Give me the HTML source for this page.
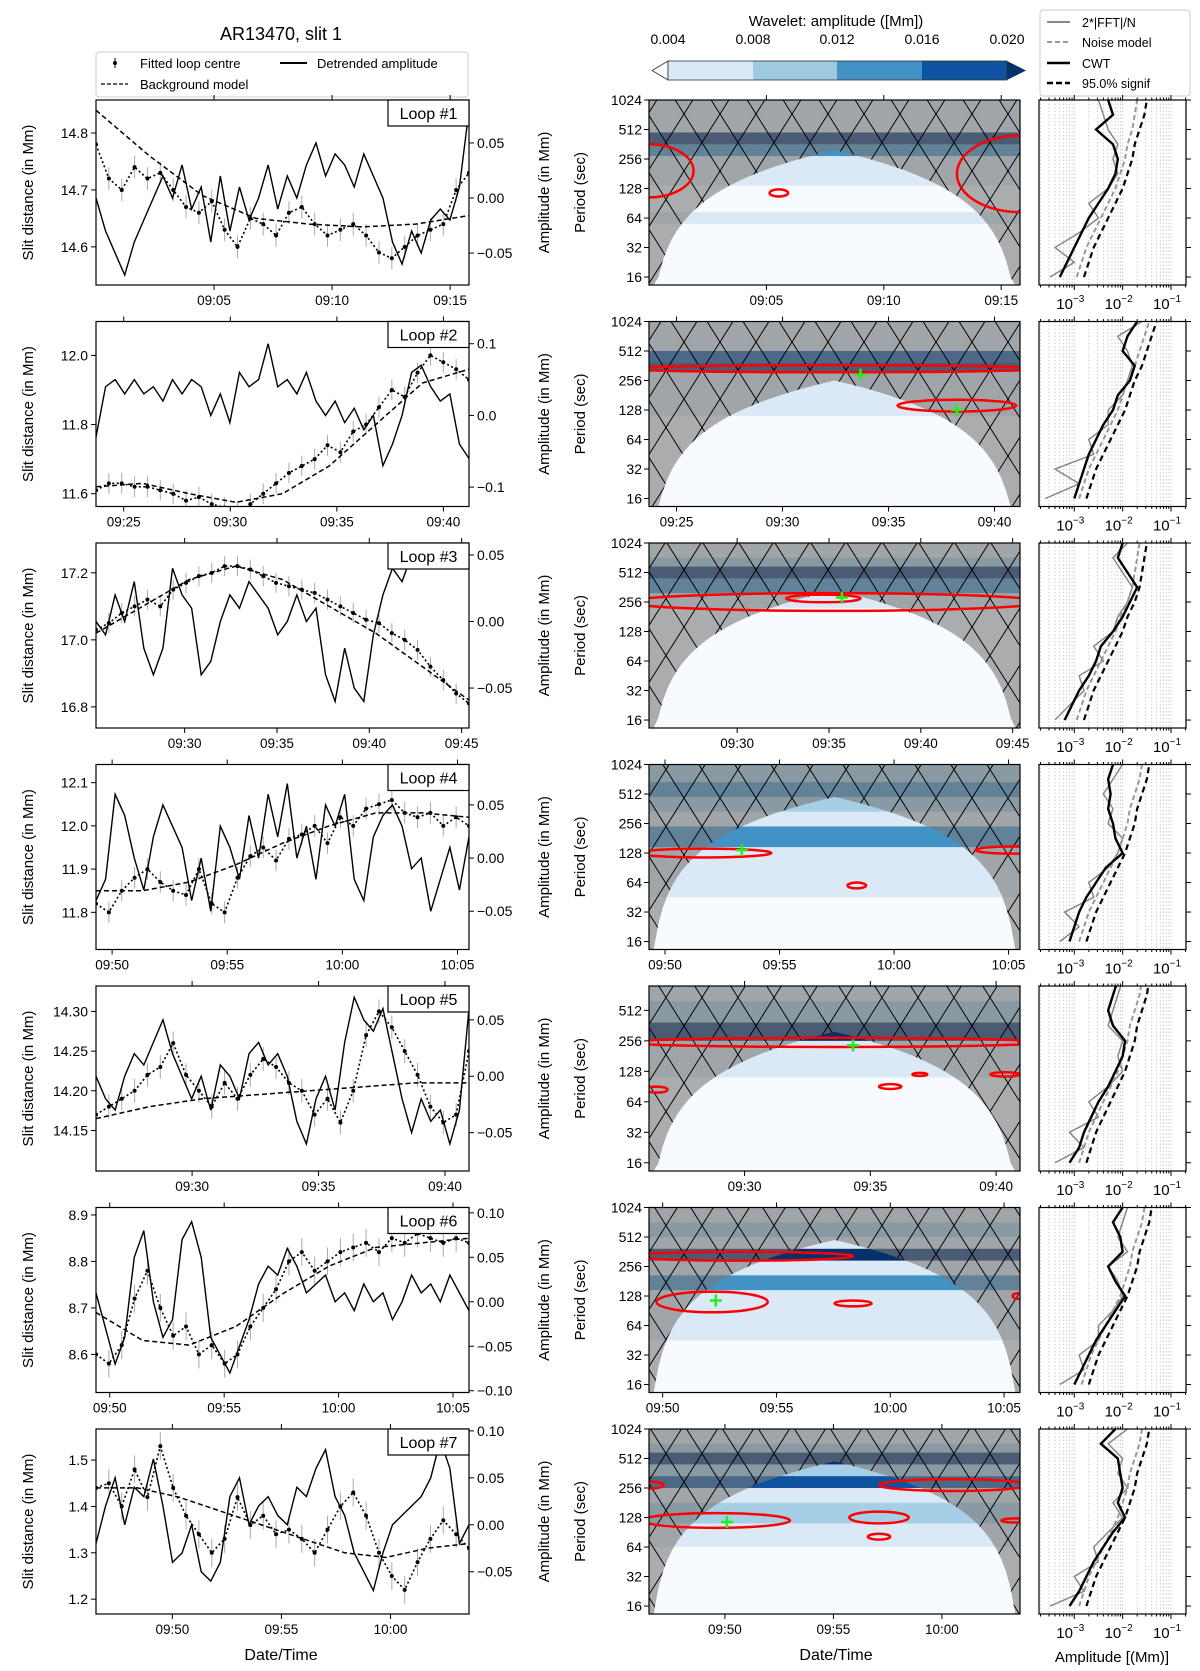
<!DOCTYPE html>
<html><head><meta charset="utf-8"><title>AR13470 slit 1</title>
<style>
html,body{margin:0;padding:0;background:#fff;}
svg{display:block;font-family:"Liberation Sans","DejaVu Sans",sans-serif;}
</style></head>
<body>
<svg id="fig" width="1200" height="1671" viewBox="0 0 1200 1671" xmlns="http://www.w3.org/2000/svg">
<defs>
<pattern id="hatch" patternUnits="userSpaceOnUse" width="36" height="57">
<line x1="0" y1="0" x2="36" y2="57" stroke="#000" stroke-width="1"/>
<line x1="36" y1="0" x2="0" y2="57" stroke="#000" stroke-width="1"/>
</pattern>
</defs>
<text x="281" y="40" font-size="18" text-anchor="middle">AR13470, slit 1</text>
<g>
<rect x="96" y="52" width="372" height="45" fill="#fff" stroke="#ccc" rx="3"/>
<line x1="115" y1="58" x2="115" y2="68" stroke="#000" stroke-width="1"/><circle cx="115" cy="63" r="2" fill="#000"/>
<text x="140" y="68" font-size="13">Fitted loop centre</text>
<line x1="280" y1="63" x2="307" y2="63" stroke="#000" stroke-width="2"/>
<text x="317" y="68" font-size="13">Detrended amplitude</text>
<line x1="101" y1="84" x2="128" y2="84" stroke="#000" stroke-width="1.3" stroke-dasharray="4,2"/>
<text x="140" y="89" font-size="13">Background model</text>
</g>
<g>
<text x="836" y="26" font-size="15" text-anchor="middle">Wavelet: amplitude ([Mm])</text>
<polygon points="668,61 652,70.5 668,80" fill="#f7fbff" stroke="#333" stroke-width="0.8"/>
<rect x="668" y="61" width="85" height="19" fill="#dbe9f6"/>
<rect x="753" y="61" width="84" height="19" fill="#9ecae1"/>
<rect x="837" y="61" width="85" height="19" fill="#4292c6"/>
<rect x="922" y="61" width="85" height="19" fill="#0d53a0"/>
<polygon points="1007,61 1026,70.5 1007,80" fill="#08306b"/>
<rect x="668" y="61" width="339" height="19" fill="none" stroke="#333" stroke-width="0.8"/>
<g font-size="14" text-anchor="middle">
<text x="668" y="44">0.004</text><text x="753" y="44">0.008</text><text x="837" y="44">0.012</text><text x="922" y="44">0.016</text><text x="1007" y="44">0.020</text>
</g>
</g>
<g>
<rect x="1040" y="10" width="150" height="86" fill="#fff" stroke="#ccc" rx="3"/>
<line x1="1047" y1="22" x2="1070" y2="22" stroke="#888" stroke-width="2"/><text x="1082" y="27" font-size="12.5">2*|FFT|/N</text>
<line x1="1047" y1="42" x2="1070" y2="42" stroke="#999" stroke-width="2" stroke-dasharray="5,3"/><text x="1082" y="47" font-size="12.5">Noise model</text>
<line x1="1047" y1="63" x2="1070" y2="63" stroke="#000" stroke-width="2.5"/><text x="1082" y="68" font-size="12.5">CWT</text>
<line x1="1047" y1="83" x2="1070" y2="83" stroke="#000" stroke-width="2.5" stroke-dasharray="6,3"/><text x="1082" y="88" font-size="12.5">95.0% signif</text>
</g>
<text x="281" y="1660" font-size="16" text-anchor="middle">Date/Time</text>
<text x="836" y="1660" font-size="16" text-anchor="middle">Date/Time</text>
<text x="1112" y="1662" font-size="15" text-anchor="middle">Amplitude [(Mm)]</text>
</svg>
<script>
// ---- time axes (minutes after 09:00) ----
const tStart=[0.0,23.7,25.2,49.3,26.2,49.4,46.5];
const tSpan=[15.8,17.5,20.2,16.2,14.75,16.3,17.1];
const timeTicks=[[5,10,15],[25,30,35,40],[30,35,40,45],[50,55,60,65],[30,35,40],[50,55,60,65],[50,55,60]];
// ---- left axes ----
const leftRange=[[14.533,14.858],[11.563,12.098],[16.737,17.289],[11.714,12.142],[14.099,14.332],[8.518,8.916],[1.168,1.567]];
const ampRange=[[-0.079,0.089],[-0.127,0.131],[-0.080,0.059],[-0.086,0.088],[-0.084,0.080],[-0.102,0.106],[-0.095,0.102]];
const leftTicks=[[14.6,14.7,14.8],[11.6,11.8,12.0],[16.8,17.0,17.2],[11.8,11.9,12.0,12.1],[14.15,14.2,14.25,14.3],[8.6,8.7,8.8,8.9],[1.2,1.3,1.4,1.5]];
const leftDec=[1,1,1,1,2,1,1];
const ampTicks=[[-0.05,0,0.05],[-0.1,0,0.1],[-0.05,0,0.05],[-0.05,0,0.05],[-0.05,0,0.05],[-0.1,-0.05,0,0.05,0.1],[-0.05,0,0.05,0.1]];
const ampDec=[2,1,2,2,2,2,2];
const errHalf=[0.02,0.03,0.03,0.025,0.015,0.03,0.03];
// ---- fitted loop centre ----
const centre=[
[14.78,14.72,14.70,14.74,14.72,14.73,14.70,14.67,14.66,14.68,14.63,14.60,14.65,14.64,14.62,14.66,14.67,14.64,14.62,14.63,14.64,14.62,14.59,14.58,14.60,14.62,14.63,14.64,14.70,14.73],
[11.61,11.63,11.63,11.62,11.62,11.61,11.60,11.58,11.59,11.57,11.56,11.55,11.57,11.60,11.63,11.66,11.68,11.70,11.74,11.72,11.78,11.80,11.85,11.90,11.88,11.95,12.00,11.98,11.96,11.93],
[17.03,17.05,17.08,17.10,17.12,17.10,17.15,17.17,17.19,17.20,17.22,17.22,17.21,17.19,17.17,17.16,17.15,17.14,17.12,17.10,17.08,17.06,17.05,17.02,17.00,16.97,16.92,16.88,16.84,16.81],
[11.82,11.80,11.85,11.88,11.90,11.87,11.85,11.84,11.90,11.82,11.80,11.88,11.93,11.95,11.92,11.97,11.98,12.00,11.96,12.02,12.00,12.04,12.05,12.06,12.03,12.02,12.03,12.00,12.02,12.00],
[14.17,14.18,14.19,14.20,14.22,14.23,14.26,14.22,14.20,14.18,14.21,14.19,14.22,14.24,14.23,14.21,14.20,14.17,14.19,14.16,14.20,14.27,14.30,14.28,14.25,14.22,14.18,14.16,14.17,14.25],
[8.60,8.58,8.62,8.72,8.78,8.70,8.64,8.66,8.60,8.62,8.58,8.60,8.66,8.70,8.74,8.80,8.82,8.78,8.80,8.82,8.83,8.84,8.82,8.85,8.84,8.86,8.85,8.84,8.85,8.84],
[1.44,1.45,1.40,1.48,1.42,1.53,1.44,1.38,1.34,1.30,1.33,1.42,1.36,1.38,1.34,1.35,1.33,1.30,1.35,1.40,1.43,1.38,1.30,1.25,1.22,1.28,1.33,1.37,1.34,1.31]];
// ---- background model ----
const background=[
[14.84,14.76,14.69,14.65,14.64,14.635,14.64,14.655],
[11.62,11.63,11.60,11.575,11.60,11.68,11.80,11.92,11.96],
[17.02,17.10,17.18,17.22,17.18,17.10,17.02,16.92,16.82],
[11.85,11.85,11.87,11.91,11.96,12.00,12.03,12.03,12.02],
[14.165,14.18,14.19,14.195,14.20,14.205,14.21,14.21],
[8.69,8.63,8.62,8.66,8.73,8.79,8.83,8.84,8.85],
[1.44,1.44,1.42,1.39,1.36,1.33,1.30,1.29,1.31,1.32]];
// ---- detrended amplitude ----
const amplitude=[
[0.00,-0.03,-0.05,-0.07,-0.04,-0.02,0.0,0.02,0.00,0.03,-0.01,0.01,-0.04,0.02,-0.03,0.01,-0.02,0.00,0.03,-0.01,0.02,0.0,0.03,0.05,0.02,0.04,0.03,0.01,0.04,0.02,0.0,-0.04,-0.06,-0.03,-0.05,-0.02,-0.01,-0.02,0.01,0.08],
[-0.03,0.04,0.05,0.03,0.05,0.03,0.04,0.02,0.05,0.03,0.05,0.04,0.0,0.03,-0.01,0.06,0.04,0.05,0.10,0.04,0.05,0.03,0.06,0.02,0.0,0.02,-0.01,0.01,-0.02,0.0,-0.07,-0.04,0.0,0.06,0.07,0.04,0.02,0.03,-0.04,-0.06],
[0.0,-0.01,0.02,0.0,0.03,-0.02,-0.04,-0.02,0.04,0.02,0.01,-0.04,-0.03,0.0,0.02,0.01,0.03,0.02,0.01,-0.01,0.0,0.02,0.0,0.01,-0.04,-0.06,-0.02,-0.05,-0.06,-0.01,0.02,0.04,0.03,0.05,0.04,0.05,0.06,0.05,0.04,0.05],
[-0.04,-0.02,0.06,0.04,0.0,-0.03,0.02,0.05,0.03,0.01,-0.04,0.0,-0.05,0.03,0.01,-0.02,0.04,0.00,0.06,0.02,0.07,0.0,0.03,-0.02,0.05,0.03,0.06,-0.02,-0.04,0.02,0.04,0.05,0.03,-0.01,0.0,-0.05,-0.02,0.01,-0.03,0.02],
[0.0,-0.02,-0.03,0.0,0.02,0.01,0.03,0.05,0.02,0.0,-0.02,0.0,-0.03,0.01,0.0,-0.02,0.02,0.03,0.01,0.02,0.0,-0.04,-0.06,-0.02,0.0,-0.03,0.03,0.07,0.05,0.04,0.06,0.02,-0.02,-0.05,-0.02,-0.04,-0.03,-0.06,-0.03,0.06],
[0.01,-0.03,-0.07,-0.04,0.05,0.08,0.0,-0.04,-0.02,0.07,0.09,0.05,-0.04,-0.06,-0.08,-0.05,-0.02,0.02,0.04,0.03,0.06,0.04,0.01,0.02,0.03,0.0,0.01,-0.01,0.02,0.0,0.01,-0.02,0.0,0.03,0.01,0.02,0.0,0.03,0.01,-0.01],
[-0.02,0.02,0.05,0.00,0.04,0.03,0.07,0.02,-0.04,-0.03,0.0,-0.05,-0.06,-0.04,0.03,0.05,0.0,0.02,0.03,0.01,0.0,0.04,0.03,0.06,0.08,0.03,0.01,-0.03,-0.05,-0.07,-0.03,0.0,0.01,0.02,0.03,0.05,0.09,0.06,-0.02,0.0]];
// ---- wavelet (log2 period bands, amplitude level 0..5) ----
const periodTop=[10,10,10,10,9.8,10,10];
const periodBottom=3.73;
const bandEdges=[
[10,9.4,8.9,8.5,8.1,7.6,7.1,6.2,5.8,3.73],
[10,9.5,9.0,8.6,8.3,7.9,7.3,6.8,3.73],
[10,9.5,9.2,8.8,8.3,7.8,7.3,3.73],
[10,9.4,8.9,8.4,7.9,7.2,6.6,5.5,3.73],
[9.8,9.3,8.6,8.0,7.5,6.8,3.73],
[10,9.5,9.0,8.6,8.2,7.7,7.2,6.6,5.5,3.73],
[10,9.5,9.2,8.8,8.4,8.0,7.5,6.8,6.0,3.73]];
const bandLevel=[
[1,1,5,3,1,1,0,1,0],
[1,1,4,5,1,1,1,0],
[1,2,5,3,1,0,0],
[2,3,2,1,3,1,1,0],
[1,2,5,1,1,0],
[1,2,1,5,1,3,1,1,0],
[1,2,5,2,4,1,2,1,0]];
const coiApex=[8.3,8.0,8.4,8.9,8.3,8.9,8.9];
// contours: [time fraction, log2 period, half-width fraction, half-height log2]
const contours=[
[[0.0,7.6,0.12,0.9],[1.0,7.5,0.17,1.3],[0.35,6.85,0.025,0.12]],
[[0.5,8.4,0.56,0.12],[0.83,7.15,0.16,0.2]],
[[0.5,8.0,0.56,0.3],[0.47,8.12,0.1,0.13]],
[[0.15,7.0,0.18,0.15],[0.56,5.9,0.025,0.1],[0.98,7.1,0.1,0.12]],
[[0.5,7.95,0.56,0.15],[0.02,6.4,0.03,0.1],[0.65,6.5,0.03,0.08],[0.73,6.9,0.02,0.05],[0.96,6.9,0.04,0.07]],
[[0.25,8.35,0.3,0.15],[0.17,6.8,0.15,0.35],[0.55,6.75,0.05,0.1],[1.0,7.0,0.02,0.1]],
[[0.0,8.1,0.04,0.12],[0.82,8.1,0.2,0.2],[0.18,6.9,0.2,0.25],[0.62,7.0,0.08,0.2],[0.62,6.35,0.03,0.1],[0.99,6.9,0.04,0.07]]];
const peaks=[[],[[0.57,8.2],[0.83,7.0]],[[0.52,8.15]],[[0.25,7.1]],[[0.55,7.85]],[[0.18,6.85]],[[0.21,6.85]]];
const periodTicks=[16,32,64,128,256,512,1024];
// ---- spectra: log10 amplitude at log2 periods ----
const specPeriods=[4,4.5,5,5.5,6,6.5,7,7.5,8,8.5,9,9.5,10];
const cwt=[
[-3.3,-3.15,-3.0,-2.85,-2.7,-2.5,-2.3,-2.15,-2.1,-2.2,-2.55,-2.2,-2.3],
[-3.0,-2.9,-2.8,-2.7,-2.55,-2.4,-2.2,-2.1,-1.85,-1.75,-2.0,-1.9,-1.7],
[-3.2,-3.05,-2.9,-2.7,-2.55,-2.45,-2.2,-2.0,-1.85,-1.7,-1.9,-2.1,-2.0],
[-3.1,-3.0,-2.9,-2.75,-2.55,-2.35,-2.0,-2.15,-2.2,-2.3,-2.25,-2.3,-2.2],
[-3.1,-2.9,-2.8,-2.65,-2.5,-2.3,-2.15,-2.0,-1.95,-2.2,-2.3,-2.2,-2.1],
[-3.0,-2.85,-2.7,-2.55,-2.35,-2.15,-1.95,-2.15,-2.3,-2.0,-2.05,-2.2,-2.0],
[-3.1,-2.9,-2.75,-2.6,-2.4,-2.2,-1.95,-2.1,-2.0,-2.05,-2.1,-2.45,-2.15]];
const signif=[
[-2.8,-2.7,-2.6,-2.45,-2.3,-2.15,-2.0,-1.9,-1.8,-1.75,-1.65,-1.55,-1.5],
[-2.75,-2.65,-2.55,-2.4,-2.25,-2.1,-1.95,-1.85,-1.75,-1.6,-1.5,-1.4,-1.3],
[-2.8,-2.7,-2.6,-2.45,-2.3,-2.15,-2.0,-1.9,-1.75,-1.65,-1.6,-1.55,-1.5],
[-2.75,-2.65,-2.55,-2.4,-2.25,-2.1,-1.95,-1.85,-1.75,-1.7,-1.6,-1.5,-1.45],
[-2.75,-2.65,-2.55,-2.4,-2.25,-2.1,-1.95,-1.85,-1.75,-1.7,-1.6,-1.5,-1.45],
[-2.7,-2.6,-2.5,-2.35,-2.2,-2.05,-1.9,-1.8,-1.7,-1.65,-1.55,-1.45,-1.4],
[-2.75,-2.65,-2.55,-2.4,-2.25,-2.1,-1.95,-1.85,-1.75,-1.7,-1.6,-1.5,-1.45]];
const noise=[
[-2.95,-2.85,-2.75,-2.6,-2.45,-2.3,-2.15,-2.05,-1.95,-1.9,-1.8,-1.75,-1.7],
[-2.9,-2.8,-2.7,-2.55,-2.4,-2.25,-2.1,-2.0,-1.9,-1.75,-1.65,-1.55,-1.45],
[-2.95,-2.85,-2.75,-2.6,-2.45,-2.3,-2.15,-2.05,-1.9,-1.8,-1.75,-1.7,-1.65],
[-2.9,-2.8,-2.7,-2.55,-2.4,-2.25,-2.1,-2.0,-1.9,-1.85,-1.75,-1.65,-1.6],
[-2.9,-2.8,-2.7,-2.55,-2.4,-2.25,-2.1,-2.0,-1.9,-1.85,-1.75,-1.65,-1.6],
[-2.85,-2.75,-2.65,-2.5,-2.35,-2.2,-2.05,-1.95,-1.85,-1.8,-1.7,-1.6,-1.55],
[-2.9,-2.8,-2.7,-2.55,-2.4,-2.25,-2.1,-2.0,-1.9,-1.85,-1.75,-1.65,-1.6]];
const fft=[
[-3.5,-3.0,-3.4,-2.9,-2.5,-2.7,-2.3,-2.1,-2.2,-2.1,-2.3,-2.4,-2.5],
[-3.6,-2.9,-3.4,-2.6,-2.7,-2.3,-2.3,-2.0,-1.9,-1.8,-1.9,-2.1,-1.6],
[-3.4,-3.1,-2.8,-2.9,-2.4,-2.6,-2.2,-2.1,-1.9,-1.8,-2.0,-2.2,-1.9],
[-3.3,-2.9,-3.2,-2.6,-2.7,-2.3,-2.1,-2.0,-2.3,-2.2,-2.4,-2.2,-2.0],
[-3.4,-2.8,-3.1,-2.5,-2.7,-2.3,-2.0,-2.1,-2.0,-2.3,-2.2,-2.1,-2.0],
[-3.3,-2.8,-2.9,-2.5,-2.5,-2.2,-2.0,-2.1,-2.3,-1.9,-2.1,-2.0,-1.9],
[-3.5,-2.8,-3.0,-2.5,-2.6,-2.3,-2.0,-2.2,-1.9,-2.1,-2.0,-2.3,-1.9]];
const levelColors=['#f7fbff','#dbe9f6','#a6cee4','#4292c6','#0d53a0','#08306b'];

const NS='http://www.w3.org/2000/svg';
const svg=document.getElementById('fig');
function el(tag,attrs,parent){const e=document.createElementNS(NS,tag);for(const k in attrs)e.setAttribute(k,attrs[k]);(parent||svg).appendChild(e);return e;}
function txt(s,attrs,parent){const t=el('text',attrs,parent);t.textContent=s;return t;}
function fmtTime(m){const h=9+Math.floor(m/60);const mm=Math.round(m%60);return String(h).padStart(2,'0')+':'+String(mm).padStart(2,'0');}
function fmtNum(v,d){let s=v.toFixed(d);if(Math.abs(v)<1e-9)s=(0).toFixed(d);return s.replace('-','\u2212');}

const L=96,R=469,W0=649,W1=1020,S0=1039,S1=1186,H=185;
const sx=lg=>S0+(lg+3.73)/(3.04)*(S1-S0);

for(let i=0;i<7;i++){
  const top=100+i*221.5, bot=top+H;
  const row=el('g',{});
  
  
  const tx=t=>L+(t-tStart[i])/tSpan[i]*(R-L);
  const wx=t=>W0+(t-tStart[i])/tSpan[i]*(W1-W0);
  const yl=v=>bot-(v-leftRange[i][0])/(leftRange[i][1]-leftRange[i][0])*H;
  const ya=v=>bot-(v-ampRange[i][0])/(ampRange[i][1]-ampRange[i][0])*H;
  const yp=l2=>top+(periodTop[i]-l2)/(periodTop[i]-periodBottom)*H;
  const tAt=(k,n)=>tStart[i]+k/(n-1)*tSpan[i];

  // ---------- left panel ----------
  const cp=el('clipPath',{id:'cl'+i},row);
  el('rect',{x:L,y:top,width:R-L,height:H},cp);
  const lp=el('g',{'clip-path':'url(#cl'+i+')'},row);
  
  
  const c=centre[i];
  c.forEach((v,k)=>{
    const x=tx(tAt(k,c.length));
    const eb=el('line',{x1:x,x2:x,y1:yl(v-errHalf[i]),y2:yl(v+errHalf[i]),stroke:'#aaa','stroke-width':1},lp);
    
    
  });
  const cpts=c.map((v,k)=>tx(tAt(k,c.length))+','+yl(v)).join(' ');
  const cl=el('polyline',{points:cpts,fill:'none',stroke:'#000','stroke-width':1.6,'stroke-dasharray':'2,2.5'},lp);
  
  
  c.forEach((v,k)=>{
    const d=el('circle',{cx:tx(tAt(k,c.length)),cy:yl(v),r:2,fill:'#000'},lp);
    
    
  });
  const b=background[i];
  const bl=el('polyline',{points:b.map((v,k)=>tx(tAt(k,b.length))+','+yl(v)).join(' '),fill:'none',stroke:'#000','stroke-width':1.5,'stroke-dasharray':'5,3'},lp);
  
  
  const a=amplitude[i];
  const al=el('polyline',{points:a.map((v,k)=>tx(tAt(k,a.length))+','+ya(v)).join(' '),fill:'none',stroke:'#000','stroke-width':1.4},lp);
  
  
  const fr=el('rect',{x:L,y:top,width:R-L,height:H,fill:'none',stroke:'#000','stroke-width':1.2},row);
  
  
  const lb=el('g',{},row);
  
  
  el('rect',{x:R-81,y:top,width:81,height:26,fill:'#fff',stroke:'#000','stroke-width':1.2},lb);
  txt('Loop #'+(i+1),{x:R-40.5,y:top+19,'font-size':16,'text-anchor':'middle'},lb);
  leftTicks[i].forEach(v=>{
    const y=yl(v);
    el('line',{x1:L-5,x2:L,y1:y,y2:y,stroke:'#000'},row);
    const t=txt(fmtNum(v,leftDec[i]),{x:L-8,y:y+5,'font-size':14,'text-anchor':'end'},row);
    
    
  });
  ampTicks[i].forEach(v=>{
    const y=ya(v);
    el('line',{x1:R,x2:R+5,y1:y,y2:y,stroke:'#000'},row);
    const t=txt(fmtNum(v,ampDec[i]),{x:R+8,y:y+5,'font-size':14},row);
    
    
  });
  timeTicks[i].forEach(m=>{
    [[tx(m),'left'],[wx(m),'wavelet']].forEach(([x,kind])=>{
      if(x<(kind==='left'?L-1:W0-1)||x>(kind==='left'?R+1:W1+1))return;
      el('line',{x1:x,x2:x,y1:bot,y2:bot+5,stroke:'#000'},row);
      el('line',{x1:x,x2:x,y1:top,y2:top-5,stroke:'#000'},row);
      const t=txt(fmtTime(m),{x:x,y:bot+20,'font-size':13.5,'text-anchor':'middle'},row);
      
      
    });
  });
  const yt=txt('Slit distance (in Mm)',{x:0,y:0,'font-size':15,'text-anchor':'middle',transform:'translate(33,'+(top+H/2)+') rotate(-90)'},row);
  
  
  const yt2=txt('Amplitude (in Mm)',{x:0,y:0,'font-size':15,'text-anchor':'middle',transform:'translate(549,'+(top+H/2)+') rotate(-90)'},row);
  
  

  // ---------- wavelet panel ----------
  const cw=el('clipPath',{id:'cw'+i},row);
  el('rect',{x:W0,y:top,width:W1-W0,height:H},cw);
  const wp=el('g',{'clip-path':'url(#cw'+i+')'},row);
  
  
  const be=bandEdges[i];
  for(let k=0;k<be.length-1;k++){
    const y1=yp(be[k]),y2=yp(be[k+1]);
    const r=el('rect',{x:W0,y:y1,width:W1-W0,height:y2-y1+0.5,fill:levelColors[bandLevel[i][k]]},wp);
    
    
  }
  // cone of influence
  let dome='';
  const n=80;
  for(let k=0;k<=n;k++){
    const f=k/n;const d=Math.max(Math.min(f,1-f),1e-4);
    let l2=coiApex[i]+Math.log2(d/0.5);if(l2<periodBottom)l2=periodBottom;
    dome+=(k?'L':'M')+(W0+f*(W1-W0))+','+yp(l2)+' ';
  }
  dome+='Z';
  const outside='M'+W0+','+top+' H'+W1+' V'+bot+' H'+W0+' Z '+dome;
  const ov=el('path',{d:outside,'fill-rule':'evenodd',fill:'rgba(120,120,120,0.6)'},wp);
  
  
  const hp=el('path',{d:outside,'fill-rule':'evenodd',fill:'url(#hatch)'},wp);
  
  
  contours[i].forEach(cn=>{
    const cx=W0+cn[0]*(W1-W0), cy=yp(cn[1]);
    const rx=cn[2]*(W1-W0), ry=Math.abs(yp(cn[1]+cn[3])-cy);
    const e=el('ellipse',{cx:cx,cy:cy,rx:rx,ry:ry,fill:'none',stroke:'#f00','stroke-width':2.5},wp);
    
    
  });
  peaks[i].forEach(p=>{
    const x=W0+p[0]*(W1-W0), y=yp(p[1]);
    const pk=el('path',{d:'M'+(x-6)+','+y+'H'+(x+6)+'M'+x+','+(y-6)+'V'+(y+6),stroke:'#22ee22','stroke-width':2.5},wp);
    
    
  });
  const wf=el('rect',{x:W0,y:top,width:W1-W0,height:H,fill:'none',stroke:'#000','stroke-width':1.2},row);
  
  
  periodTicks.forEach(p=>{
    const l2=Math.log2(p);if(l2>periodTop[i]+0.01)return;
    const y=yp(l2);
    el('line',{x1:W0-5,x2:W0,y1:y,y2:y,stroke:'#000'},row);
    const t=txt(String(p),{x:W0-7,y:y+5,'font-size':14,'text-anchor':'end'},row);
    
    
    el('line',{x1:S1,x2:S1+5,y1:y,y2:y,stroke:'#000'},row);
  });
  const pt=txt('Period (sec)',{x:0,y:0,'font-size':15,'text-anchor':'middle',transform:'translate(585,'+(top+H/2)+') rotate(-90)'},row);
  
  

  // ---------- spectrum panel ----------
  const cs=el('clipPath',{id:'cs'+i},row);
  el('rect',{x:S0,y:top,width:S1-S0,height:H},cs);
  const sp=el('g',{'clip-path':'url(#cs'+i+')'},row);
  
  
  for(let d=-4;d<=-1;d++)for(let m=1;m<=9;m++){
    const x=sx(d+Math.log10(m));if(x<S0||x>S1)continue;
    el('line',{x1:x,x2:x,y1:top,y2:bot,stroke:'#bbb','stroke-width':0.7,'stroke-dasharray':'1.5,2'},sp);
    el('line',{x1:x,x2:x,y1:bot,y2:bot+(m===1?5:2.5),stroke:'#000'},row);
    el('line',{x1:x,x2:x,y1:top,y2:top-(m===1?5:2.5),stroke:'#000'},row);
  }
  const series=[[fft[i],'#888',1.5,null,'fft-line'],[noise[i],'#999',2,'5,3','noise-model-line'],[cwt[i],'#000',2.4,null,'cwt-line'],[signif[i],'#000',2.2,'6,4','significance-line']];
  series.forEach(([vals,col,w,dash,name])=>{
    const pts=vals.map((v,k)=>sx(v)+','+yp(specPeriods[k])).join(' ');
    const attrs={points:pts,fill:'none',stroke:col,'stroke-width':w};
    if(dash)attrs['stroke-dasharray']=dash;
    const pl=el('polyline',attrs,sp);
    
    
  });
  const sf=el('rect',{x:S0,y:top,width:S1-S0,height:H,fill:'none',stroke:'#000','stroke-width':1.2},row);
  
  
  [-3,-2,-1].forEach(d=>{
    const t=txt('10',{x:sx(d)-4,y:bot+24,'font-size':15,'text-anchor':'middle'},row);
    const s=el('tspan',{dy:-7,'font-size':10},t);s.textContent='\u2212'+(-d);
    
    
  });
}
</script>
</body></html>
